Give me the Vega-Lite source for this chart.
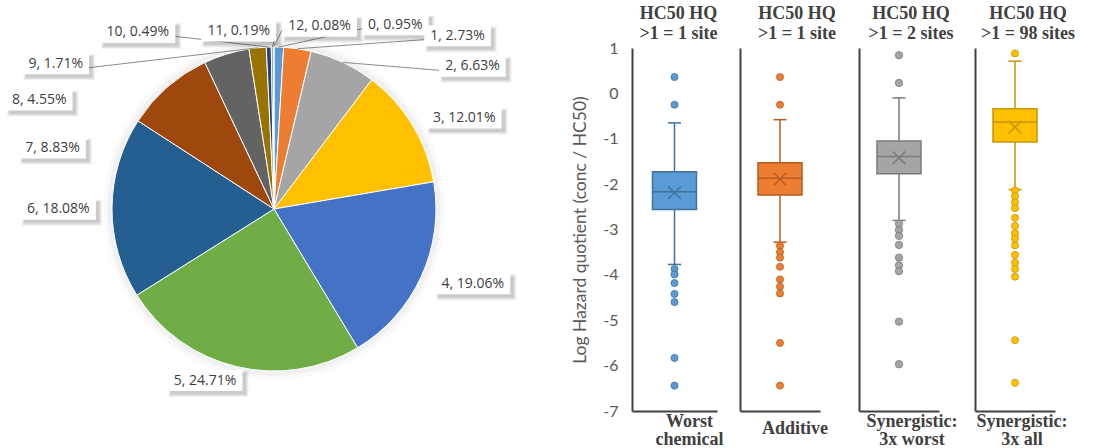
{
  "$schema": "https://vega.github.io/schema/vega-lite/v6.json",
  "background": "white",
  "padding": {"left": 0, "top": 5, "right": 0, "bottom": 0},
  "config": {
    "view": {"stroke": null},
    "axis": {"grid": false, "ticks": false, "tickSize": 0, "domainColor": "#404040", "domainWidth": 2}
  },
  "datasets": {
    "slices": [
      {"k": 0, "pct": 0.95}, {"k": 1, "pct": 2.73}, {"k": 2, "pct": 6.63}, {"k": 3, "pct": 12.01},
      {"k": 4, "pct": 19.06}, {"k": 5, "pct": 24.71}, {"k": 6, "pct": 18.08}, {"k": 7, "pct": 8.83},
      {"k": 8, "pct": 4.55}, {"k": 9, "pct": 1.71}, {"k": 10, "pct": 0.49}, {"k": 11, "pct": 0.19},
      {"k": 12, "pct": 0.08}
    ],
    "boxes": [
      {"group": "Worst chemical", "lower": -3.77, "q1": -2.56, "median": -2.17, "q3": -1.73, "upper": -0.65, "mean": -2.19},
      {"group": "Additive", "lower": -3.28, "q1": -2.24, "median": -1.87, "q3": -1.53, "upper": -0.58, "mean": -1.89},
      {"group": "Synergistic: 3x worst", "lower": -2.8, "q1": -1.77, "median": -1.39, "q3": -1.05, "upper": -0.1, "mean": -1.42},
      {"group": "Synergistic: 3x all", "lower": -2.12, "q1": -1.07, "median": -0.63, "q3": -0.34, "upper": 0.71, "mean": -0.745}
    ],
    "outliers": [
      {"group": "Worst chemical", "value": 0.36}, {"group": "Worst chemical", "value": -0.25},
      {"group": "Worst chemical", "value": -3.87}, {"group": "Worst chemical", "value": -3.99},
      {"group": "Worst chemical", "value": -4.18}, {"group": "Worst chemical", "value": -4.42},
      {"group": "Worst chemical", "value": -4.6}, {"group": "Worst chemical", "value": -5.83},
      {"group": "Worst chemical", "value": -6.44},
      {"group": "Additive", "value": 0.36}, {"group": "Additive", "value": -0.25},
      {"group": "Additive", "value": -3.36}, {"group": "Additive", "value": -3.5},
      {"group": "Additive", "value": -3.62}, {"group": "Additive", "value": -3.82},
      {"group": "Additive", "value": -4.1}, {"group": "Additive", "value": -4.26},
      {"group": "Additive", "value": -4.41}, {"group": "Additive", "value": -5.5},
      {"group": "Additive", "value": -6.44},
      {"group": "Synergistic: 3x worst", "value": 0.84}, {"group": "Synergistic: 3x worst", "value": 0.23},
      {"group": "Synergistic: 3x worst", "value": -2.87}, {"group": "Synergistic: 3x worst", "value": -3.01},
      {"group": "Synergistic: 3x worst", "value": -3.14}, {"group": "Synergistic: 3x worst", "value": -3.34},
      {"group": "Synergistic: 3x worst", "value": -3.62}, {"group": "Synergistic: 3x worst", "value": -3.79},
      {"group": "Synergistic: 3x worst", "value": -3.92}, {"group": "Synergistic: 3x worst", "value": -5.03},
      {"group": "Synergistic: 3x worst", "value": -5.97},
      {"group": "Synergistic: 3x all", "value": 0.88}, {"group": "Synergistic: 3x all", "value": -2.14},
      {"group": "Synergistic: 3x all", "value": -2.27}, {"group": "Synergistic: 3x all", "value": -2.4},
      {"group": "Synergistic: 3x all", "value": -2.53}, {"group": "Synergistic: 3x all", "value": -2.74},
      {"group": "Synergistic: 3x all", "value": -2.92}, {"group": "Synergistic: 3x all", "value": -3.08},
      {"group": "Synergistic: 3x all", "value": -3.2}, {"group": "Synergistic: 3x all", "value": -3.35},
      {"group": "Synergistic: 3x all", "value": -3.56}, {"group": "Synergistic: 3x all", "value": -3.73},
      {"group": "Synergistic: 3x all", "value": -3.87}, {"group": "Synergistic: 3x all", "value": -4.04},
      {"group": "Synergistic: 3x all", "value": -5.44}, {"group": "Synergistic: 3x all", "value": -6.38}
    ]
  },
  "spacing": 84,
  "bounds": "flush",
  "hconcat": [
    {
      "width": 548,
      "height": 322,
      "data": {"name": "slices"},
      "transform": [
        {"calculate": "datum.k + ', ' + format(datum.pct, '.2f') + '%'", "as": "label"},
        {"window": [{"op": "sum", "field": "pct", "as": "cum"}], "sort": [{"field": "k", "order": "ascending"}]},
        {"joinaggregate": [{"op": "sum", "field": "pct", "as": "total"}]},
        {"calculate": "2 * PI * (datum.cum - datum.pct / 2) / datum.total", "as": "mid"},
        {"calculate": "sin(datum.mid)", "as": "sx"},
        {"calculate": "-cos(datum.mid)", "as": "sy"},
        {"calculate": "[0.749, 1.133, 1.225, 1.174, 1.227, -0.426, -1.331, -1.367, -1.449, -1.347, -0.841, -0.218, 0.281][datum.k]", "as": "lx"},
        {"calculate": "[-1.137, -1.07, -0.881, -0.562, 0.461, 1.059, 0.002, -0.377, -0.673, -0.897, -1.09, -1.099, -1.128][datum.k]", "as": "ly"},
        {"calculate": "(8.5 * length(datum.label) - 1.5) / 162", "as": "bw"},
        {"calculate": "datum.lx - datum.bw / 2", "as": "bx1"},
        {"calculate": "datum.lx + datum.bw / 2", "as": "bx2"},
        {"calculate": "datum.ly - 10.5 / 162", "as": "by1"},
        {"calculate": "datum.ly + 10.5 / 162", "as": "by2"},
        {"calculate": "datum.lx > datum.sx ? datum.bx1 : datum.bx2", "as": "ex"},
        {"calculate": "datum.ly + 4 / 162", "as": "ey"}
      ],
      "layer": [
        {
          "transform": [{"aggregate": [{"op": "sum", "field": "pct", "as": "t"}]}],
          "mark": {"type": "arc", "outerRadius": 171, "color": "#000000", "opacity": 0.02},
          "encoding": {"theta": {"field": "t", "type": "quantitative"}}
        },
        {
          "transform": [{"aggregate": [{"op": "sum", "field": "pct", "as": "t"}]}],
          "mark": {"type": "arc", "outerRadius": 167, "color": "#000000", "opacity": 0.035},
          "encoding": {"theta": {"field": "t", "type": "quantitative"}}
        },
        {
          "mark": {"type": "arc", "outerRadius": 162, "stroke": "#ffffff", "strokeWidth": 1},
          "encoding": {
            "theta": {"field": "pct", "type": "quantitative", "stack": true},
            "order": {"field": "k", "type": "quantitative"},
            "color": {
              "field": "k", "type": "nominal", "legend": null,
              "scale": {
                "domain": [0, 1, 2, 3, 4, 5, 6, 7, 8, 9, 10, 11, 12],
                "range": ["#5B9BD5", "#ED7D31", "#A5A5A5", "#FFC000", "#4472C4", "#70AD47", "#255E91", "#9E480E", "#636363", "#997300", "#264478", "#43682B", "#7CAFDD"]
              }
            }
          }
        },
        {
          "transform": [{"filter": "indexof([0, 1, 2, 9, 10, 11, 12], datum.k) >= 0"}],
          "mark": {"type": "rule", "color": "#8c8c8c", "strokeWidth": 1},
          "encoding": {
            "x": {"field": "sx", "type": "quantitative", "axis": null, "scale": {"domain": [-1.6914, 1.6914], "nice": false, "zero": false}},
            "y": {"field": "sy", "type": "quantitative", "axis": null, "scale": {"domain": [-0.99383, 0.99383], "reverse": true, "nice": false, "zero": false}},
            "x2": {"field": "ex"},
            "y2": {"field": "ey"}
          }
        },
        {
          "mark": {"type": "rect", "color": "#000000", "opacity": 0.05, "xOffset": 1, "x2Offset": 6, "yOffset": 1, "y2Offset": 6},
          "encoding": {
            "x": {"field": "bx1", "type": "quantitative", "axis": null, "scale": {"domain": [-1.6914, 1.6914], "nice": false, "zero": false}},
            "x2": {"field": "bx2"},
            "y": {"field": "by1", "type": "quantitative", "axis": null, "scale": {"domain": [-0.99383, 0.99383], "reverse": true, "nice": false, "zero": false}},
            "y2": {"field": "by2"}
          }
        },
        {
          "mark": {"type": "rect", "color": "#000000", "opacity": 0.07, "xOffset": 2, "x2Offset": 5, "yOffset": 2, "y2Offset": 5},
          "encoding": {
            "x": {"field": "bx1", "type": "quantitative", "axis": null, "scale": {"domain": [-1.6914, 1.6914], "nice": false, "zero": false}},
            "x2": {"field": "bx2"},
            "y": {"field": "by1", "type": "quantitative", "axis": null, "scale": {"domain": [-0.99383, 0.99383], "reverse": true, "nice": false, "zero": false}},
            "y2": {"field": "by2"}
          }
        },
        {
          "mark": {"type": "rect", "color": "#000000", "opacity": 0.09, "xOffset": 3, "x2Offset": 3.5, "yOffset": 3, "y2Offset": 3.5},
          "encoding": {
            "x": {"field": "bx1", "type": "quantitative", "axis": null, "scale": {"domain": [-1.6914, 1.6914], "nice": false, "zero": false}},
            "x2": {"field": "bx2"},
            "y": {"field": "by1", "type": "quantitative", "axis": null, "scale": {"domain": [-0.99383, 0.99383], "reverse": true, "nice": false, "zero": false}},
            "y2": {"field": "by2"}
          }
        },
        {
          "mark": {"type": "rect", "color": "#ffffff", "opacity": 1},
          "encoding": {
            "x": {"field": "bx1", "type": "quantitative", "axis": null, "scale": {"domain": [-1.6914, 1.6914], "nice": false, "zero": false}},
            "x2": {"field": "bx2"},
            "y": {"field": "by1", "type": "quantitative", "axis": null, "scale": {"domain": [-0.99383, 0.99383], "reverse": true, "nice": false, "zero": false}},
            "y2": {"field": "by2"}
          }
        },
        {
          "mark": {"type": "text", "font": "Open Sans", "fontSize": 14, "color": "#404040", "align": "center", "baseline": "middle"},
          "encoding": {
            "x": {"field": "lx", "type": "quantitative", "axis": null, "scale": {"domain": [-1.6914, 1.6914], "nice": false, "zero": false}},
            "y": {"field": "ly", "type": "quantitative", "axis": null, "scale": {"domain": [-0.99383, 0.99383], "reverse": true, "nice": false, "zero": false}},
            "text": {"field": "label"}
          }
        }
      ]
    },
    {
      "spacing": 23,
      "bounds": "flush",
      "hconcat": [
        {
          "width": 85,
          "height": 363,
          "title": {"text": ["HC50 HQ", ">1 = 1 site"], "frame": "group", "dx": 4, "font": "Liberation Serif", "fontSize": 18, "fontWeight": "bold", "color": "#404040", "lineHeight": 20, "offset": -3, "anchor": "middle"},
          "data": {"name": "boxes"},
          "transform": [{"filter": "datum.group === 'Worst chemical'"}],
          "encoding": {
            "x": {
              "field": "group", "type": "nominal",
              "scale": {"paddingInner": 0, "paddingOuter": 0},
              "axis": {"title": null, "labelAngle": 0, "labelExpr": "split(datum.label, ' ')", "labelFont": "Liberation Serif", "labelFontWeight": "bold", "labelFontSize": 18, "labelColor": "#404040", "labelPadding": 10, "labelOffset": 15, "labelBaseline": "middle", "labelLineHeight": 18}
            }
          },
          "layer": [
            {
              "mark": {"type": "rule", "color": "#41719C", "strokeWidth": 1.5},
              "encoding": {
                "y": {"field": "lower", "type": "quantitative", "scale": {"domain": [-7, 1], "nice": false, "zero": false},
                  "axis": {"values": [-7, -6, -5, -4, -3, -2, -1, 0, 1], "labelExpr": "'' + datum.value", "labelFont": "Lato", "labelFontSize": 16, "labelColor": "#595959", "labelPadding": 14, "title": "Log Hazard quotient (conc / HC50)", "titleFont": "Lato", "titleFontSize": 17.5, "titleFontWeight": "normal", "titleColor": "#595959", "titlePadding": 13}},
                "y2": {"field": "upper"}
              }
            },
            {
              "mark": {"type": "bar", "width": 44, "fill": "#5B9BD5", "stroke": "#41719C", "strokeWidth": 1.5},
              "encoding": {
                "y": {"field": "q1", "type": "quantitative", "scale": {"domain": [-7, 1], "nice": false, "zero": false},
                  "axis": {"values": [-7, -6, -5, -4, -3, -2, -1, 0, 1], "labelExpr": "'' + datum.value", "labelFont": "Lato", "labelFontSize": 16, "labelColor": "#595959", "labelPadding": 14, "title": "Log Hazard quotient (conc / HC50)", "titleFont": "Lato", "titleFontSize": 17.5, "titleFontWeight": "normal", "titleColor": "#595959", "titlePadding": 13}},
                "y2": {"field": "q3"}
              }
            },
            {
              "mark": {"type": "tick", "size": 44, "thickness": 1.5, "color": "#41719C", "opacity": 1},
              "encoding": {
                "y": {"field": "median", "type": "quantitative", "scale": {"domain": [-7, 1], "nice": false, "zero": false},
                  "axis": {"values": [-7, -6, -5, -4, -3, -2, -1, 0, 1], "labelExpr": "'' + datum.value", "labelFont": "Lato", "labelFontSize": 16, "labelColor": "#595959", "labelPadding": 14, "title": "Log Hazard quotient (conc / HC50)", "titleFont": "Lato", "titleFontSize": 17.5, "titleFontWeight": "normal", "titleColor": "#595959", "titlePadding": 13}}
              }
            },
            {
              "mark": {"type": "tick", "size": 13, "thickness": 1.5, "color": "#41719C", "opacity": 1},
              "encoding": {
                "y": {"field": "lower", "type": "quantitative", "scale": {"domain": [-7, 1], "nice": false, "zero": false},
                  "axis": {"values": [-7, -6, -5, -4, -3, -2, -1, 0, 1], "labelExpr": "'' + datum.value", "labelFont": "Lato", "labelFontSize": 16, "labelColor": "#595959", "labelPadding": 14, "title": "Log Hazard quotient (conc / HC50)", "titleFont": "Lato", "titleFontSize": 17.5, "titleFontWeight": "normal", "titleColor": "#595959", "titlePadding": 13}}
              }
            },
            {
              "mark": {"type": "tick", "size": 13, "thickness": 1.5, "color": "#41719C", "opacity": 1},
              "encoding": {
                "y": {"field": "upper", "type": "quantitative", "scale": {"domain": [-7, 1], "nice": false, "zero": false},
                  "axis": {"values": [-7, -6, -5, -4, -3, -2, -1, 0, 1], "labelExpr": "'' + datum.value", "labelFont": "Lato", "labelFontSize": 16, "labelColor": "#595959", "labelPadding": 14, "title": "Log Hazard quotient (conc / HC50)", "titleFont": "Lato", "titleFontSize": 17.5, "titleFontWeight": "normal", "titleColor": "#595959", "titlePadding": 13}}
              }
            },
            {
              "mark": {"type": "point", "shape": "M-1,-1L1,1M-1,1L1,-1", "filled": false, "color": "#41719C", "strokeWidth": 1.5, "size": 160, "opacity": 1},
              "encoding": {
                "y": {"field": "mean", "type": "quantitative", "scale": {"domain": [-7, 1], "nice": false, "zero": false},
                  "axis": {"values": [-7, -6, -5, -4, -3, -2, -1, 0, 1], "labelExpr": "'' + datum.value", "labelFont": "Lato", "labelFontSize": 16, "labelColor": "#595959", "labelPadding": 14, "title": "Log Hazard quotient (conc / HC50)", "titleFont": "Lato", "titleFontSize": 17.5, "titleFontWeight": "normal", "titleColor": "#595959", "titlePadding": 13}}
              }
            },
            {
              "data": {"name": "outliers"},
              "transform": [{"filter": "datum.group === 'Worst chemical'"}],
              "mark": {"type": "point", "shape": "circle", "filled": true, "fill": "#5B9BD5", "stroke": "#41719C", "strokeWidth": 0.8, "size": 50, "opacity": 1},
              "encoding": {
                "y": {"field": "value", "type": "quantitative", "scale": {"domain": [-7, 1], "nice": false, "zero": false},
                  "axis": {"values": [-7, -6, -5, -4, -3, -2, -1, 0, 1], "labelExpr": "'' + datum.value", "labelFont": "Lato", "labelFontSize": 16, "labelColor": "#595959", "labelPadding": 14, "title": "Log Hazard quotient (conc / HC50)", "titleFont": "Lato", "titleFontSize": 17.5, "titleFontWeight": "normal", "titleColor": "#595959", "titlePadding": 13}}
              }
            }
          ]
        },
        {
          "spacing": 39,
          "bounds": "flush",
          "hconcat": [
            {
              "width": 80,
              "height": 363,
              "title": {"text": ["HC50 HQ", ">1 = 1 site"], "frame": "group", "dx": 17, "font": "Liberation Serif", "fontSize": 18, "fontWeight": "bold", "color": "#404040", "lineHeight": 20, "offset": 5, "anchor": "middle"},
              "data": {"name": "boxes"},
              "transform": [{"filter": "datum.group === 'Additive'"}],
              "encoding": {
                "x": {
                  "field": "group", "type": "nominal",
                  "scale": {"paddingInner": 0, "paddingOuter": 0},
                  "axis": {"title": null, "labelAngle": 0, "labelFont": "Liberation Serif", "labelFontWeight": "bold", "labelFontSize": 18, "labelColor": "#404040", "labelPadding": 17, "labelOffset": 15, "labelBaseline": "middle", "labelLineHeight": 18}
                }
              },
              "layer": [
                {
                  "mark": {"type": "rule", "color": "#B85E1F", "strokeWidth": 1.5},
                  "encoding": {
                    "y": {"field": "lower", "type": "quantitative", "scale": {"domain": [-7, 1], "nice": false, "zero": false}, "axis": {"values": [-7, -6, -5, -4, -3, -2, -1, 0, 1], "labels": false, "title": null}},
                    "y2": {"field": "upper"}
                  }
                },
                {
                  "mark": {"type": "bar", "width": 44, "fill": "#ED7D31", "stroke": "#B85E1F", "strokeWidth": 1.5},
                  "encoding": {
                    "y": {"field": "q1", "type": "quantitative", "scale": {"domain": [-7, 1], "nice": false, "zero": false}, "axis": {"values": [-7, -6, -5, -4, -3, -2, -1, 0, 1], "labels": false, "title": null}},
                    "y2": {"field": "q3"}
                  }
                },
                {
                  "mark": {"type": "tick", "size": 44, "thickness": 1.5, "color": "#B85E1F", "opacity": 1},
                  "encoding": {"y": {"field": "median", "type": "quantitative", "scale": {"domain": [-7, 1], "nice": false, "zero": false}, "axis": {"values": [-7, -6, -5, -4, -3, -2, -1, 0, 1], "labels": false, "title": null}}}
                },
                {
                  "mark": {"type": "tick", "size": 13, "thickness": 1.5, "color": "#B85E1F", "opacity": 1},
                  "encoding": {"y": {"field": "lower", "type": "quantitative", "scale": {"domain": [-7, 1], "nice": false, "zero": false}, "axis": {"values": [-7, -6, -5, -4, -3, -2, -1, 0, 1], "labels": false, "title": null}}}
                },
                {
                  "mark": {"type": "tick", "size": 13, "thickness": 1.5, "color": "#B85E1F", "opacity": 1},
                  "encoding": {"y": {"field": "upper", "type": "quantitative", "scale": {"domain": [-7, 1], "nice": false, "zero": false}, "axis": {"values": [-7, -6, -5, -4, -3, -2, -1, 0, 1], "labels": false, "title": null}}}
                },
                {
                  "mark": {"type": "point", "shape": "M-1,-1L1,1M-1,1L1,-1", "filled": false, "color": "#B85E1F", "strokeWidth": 1.5, "size": 160, "opacity": 1},
                  "encoding": {"y": {"field": "mean", "type": "quantitative", "scale": {"domain": [-7, 1], "nice": false, "zero": false}, "axis": {"values": [-7, -6, -5, -4, -3, -2, -1, 0, 1], "labels": false, "title": null}}}
                },
                {
                  "data": {"name": "outliers"},
                  "transform": [{"filter": "datum.group === 'Additive'"}],
                  "mark": {"type": "point", "shape": "circle", "filled": true, "fill": "#ED7D31", "stroke": "#B85E1F", "strokeWidth": 0.8, "size": 50, "opacity": 1},
                  "encoding": {"y": {"field": "value", "type": "quantitative", "scale": {"domain": [-7, 1], "nice": false, "zero": false}, "axis": {"values": [-7, -6, -5, -4, -3, -2, -1, 0, 1], "labels": false, "title": null}}}
                }
              ]
            },
            {
              "spacing": 36,
              "bounds": "flush",
              "hconcat": [
                {
                  "width": 80,
                  "height": 363,
                  "title": {"text": ["HC50 HQ", ">1 = 2 sites"], "frame": "group", "dx": 12, "font": "Liberation Serif", "fontSize": 18, "fontWeight": "bold", "color": "#404040", "lineHeight": 20, "offset": 5, "anchor": "middle"},
                  "data": {"name": "boxes"},
                  "transform": [{"filter": "datum.group === 'Synergistic: 3x worst'"}],
                  "encoding": {
                    "x": {
                      "field": "group", "type": "nominal",
                      "scale": {"paddingInner": 0, "paddingOuter": 0},
                      "axis": {"title": null, "labelAngle": 0, "labelExpr": "split(replace(datum.label, ': ', ':|'), '|')", "labelFont": "Liberation Serif", "labelFontWeight": "bold", "labelFontSize": 18, "labelColor": "#404040", "labelPadding": 10, "labelOffset": 13, "labelBaseline": "middle", "labelLineHeight": 18}
                    }
                  },
                  "layer": [
                    {
                      "mark": {"type": "rule", "color": "#7B7B7B", "strokeWidth": 1.5},
                      "encoding": {
                        "y": {"field": "lower", "type": "quantitative", "scale": {"domain": [-7, 1], "nice": false, "zero": false}, "axis": {"values": [-7, -6, -5, -4, -3, -2, -1, 0, 1], "labels": false, "title": null}},
                        "y2": {"field": "upper"}
                      }
                    },
                    {
                      "mark": {"type": "bar", "width": 44, "fill": "#A5A5A5", "stroke": "#7B7B7B", "strokeWidth": 1.5},
                      "encoding": {
                        "y": {"field": "q1", "type": "quantitative", "scale": {"domain": [-7, 1], "nice": false, "zero": false}, "axis": {"values": [-7, -6, -5, -4, -3, -2, -1, 0, 1], "labels": false, "title": null}},
                        "y2": {"field": "q3"}
                      }
                    },
                    {
                      "mark": {"type": "tick", "size": 44, "thickness": 1.5, "color": "#7B7B7B", "opacity": 1},
                      "encoding": {"y": {"field": "median", "type": "quantitative", "scale": {"domain": [-7, 1], "nice": false, "zero": false}, "axis": {"values": [-7, -6, -5, -4, -3, -2, -1, 0, 1], "labels": false, "title": null}}}
                    },
                    {
                      "mark": {"type": "tick", "size": 13, "thickness": 1.5, "color": "#7B7B7B", "opacity": 1},
                      "encoding": {"y": {"field": "lower", "type": "quantitative", "scale": {"domain": [-7, 1], "nice": false, "zero": false}, "axis": {"values": [-7, -6, -5, -4, -3, -2, -1, 0, 1], "labels": false, "title": null}}}
                    },
                    {
                      "mark": {"type": "tick", "size": 13, "thickness": 1.5, "color": "#7B7B7B", "opacity": 1},
                      "encoding": {"y": {"field": "upper", "type": "quantitative", "scale": {"domain": [-7, 1], "nice": false, "zero": false}, "axis": {"values": [-7, -6, -5, -4, -3, -2, -1, 0, 1], "labels": false, "title": null}}}
                    },
                    {
                      "mark": {"type": "point", "shape": "M-1,-1L1,1M-1,1L1,-1", "filled": false, "color": "#7B7B7B", "strokeWidth": 1.5, "size": 160, "opacity": 1},
                      "encoding": {"y": {"field": "mean", "type": "quantitative", "scale": {"domain": [-7, 1], "nice": false, "zero": false}, "axis": {"values": [-7, -6, -5, -4, -3, -2, -1, 0, 1], "labels": false, "title": null}}}
                    },
                    {
                      "data": {"name": "outliers"},
                      "transform": [{"filter": "datum.group === 'Synergistic: 3x worst'"}],
                      "mark": {"type": "point", "shape": "circle", "filled": true, "fill": "#A5A5A5", "stroke": "#7B7B7B", "strokeWidth": 0.8, "size": 55, "opacity": 1},
                      "encoding": {"y": {"field": "value", "type": "quantitative", "scale": {"domain": [-7, 1], "nice": false, "zero": false}, "axis": {"values": [-7, -6, -5, -4, -3, -2, -1, 0, 1], "labels": false, "title": null}}}
                    }
                  ]
                },
                {
                  "width": 80,
                  "height": 363,
                  "title": {"text": ["HC50 HQ", ">1 = 98 sites"], "frame": "group", "dx": 13, "font": "Liberation Serif", "fontSize": 18, "fontWeight": "bold", "color": "#404040", "lineHeight": 20, "offset": 5, "anchor": "middle"},
                  "data": {"name": "boxes"},
                  "transform": [{"filter": "datum.group === 'Synergistic: 3x all'"}],
                  "encoding": {
                    "x": {
                      "field": "group", "type": "nominal",
                      "scale": {"paddingInner": 0, "paddingOuter": 0},
                      "axis": {"title": null, "labelAngle": 0, "labelExpr": "split(replace(datum.label, ': ', ':|'), '|')", "labelFont": "Liberation Serif", "labelFontWeight": "bold", "labelFontSize": 18, "labelColor": "#404040", "labelPadding": 10, "labelOffset": 7, "labelBaseline": "middle", "labelLineHeight": 18}
                    }
                  },
                  "layer": [
                    {
                      "mark": {"type": "rule", "color": "#C79500", "strokeWidth": 1.5},
                      "encoding": {
                        "y": {"field": "lower", "type": "quantitative", "scale": {"domain": [-7, 1], "nice": false, "zero": false}, "axis": {"values": [-7, -6, -5, -4, -3, -2, -1, 0, 1], "labels": false, "title": null}},
                        "y2": {"field": "upper"}
                      }
                    },
                    {
                      "mark": {"type": "bar", "width": 44, "fill": "#FFC000", "stroke": "#C79500", "strokeWidth": 1.5},
                      "encoding": {
                        "y": {"field": "q1", "type": "quantitative", "scale": {"domain": [-7, 1], "nice": false, "zero": false}, "axis": {"values": [-7, -6, -5, -4, -3, -2, -1, 0, 1], "labels": false, "title": null}},
                        "y2": {"field": "q3"}
                      }
                    },
                    {
                      "mark": {"type": "tick", "size": 44, "thickness": 1.5, "color": "#C79500", "opacity": 1},
                      "encoding": {"y": {"field": "median", "type": "quantitative", "scale": {"domain": [-7, 1], "nice": false, "zero": false}, "axis": {"values": [-7, -6, -5, -4, -3, -2, -1, 0, 1], "labels": false, "title": null}}}
                    },
                    {
                      "mark": {"type": "tick", "size": 13, "thickness": 1.5, "color": "#C79500", "opacity": 1},
                      "encoding": {"y": {"field": "lower", "type": "quantitative", "scale": {"domain": [-7, 1], "nice": false, "zero": false}, "axis": {"values": [-7, -6, -5, -4, -3, -2, -1, 0, 1], "labels": false, "title": null}}}
                    },
                    {
                      "mark": {"type": "tick", "size": 13, "thickness": 1.5, "color": "#C79500", "opacity": 1},
                      "encoding": {"y": {"field": "upper", "type": "quantitative", "scale": {"domain": [-7, 1], "nice": false, "zero": false}, "axis": {"values": [-7, -6, -5, -4, -3, -2, -1, 0, 1], "labels": false, "title": null}}}
                    },
                    {
                      "mark": {"type": "point", "shape": "M-1,-1L1,1M-1,1L1,-1", "filled": false, "color": "#C79500", "strokeWidth": 1.5, "size": 160, "opacity": 1},
                      "encoding": {"y": {"field": "mean", "type": "quantitative", "scale": {"domain": [-7, 1], "nice": false, "zero": false}, "axis": {"values": [-7, -6, -5, -4, -3, -2, -1, 0, 1], "labels": false, "title": null}}}
                    },
                    {
                      "data": {"name": "outliers"},
                      "transform": [{"filter": "datum.group === 'Synergistic: 3x all'"}],
                      "mark": {"type": "point", "shape": "circle", "filled": true, "fill": "#FFC000", "stroke": "#C79500", "strokeWidth": 0.8, "size": 50, "opacity": 1},
                      "encoding": {"y": {"field": "value", "type": "quantitative", "scale": {"domain": [-7, 1], "nice": false, "zero": false}, "axis": {"values": [-7, -6, -5, -4, -3, -2, -1, 0, 1], "labels": false, "title": null}}}
                    }
                  ]
                }
              ]
            }
          ]
        }
      ]
    }
  ]
}
